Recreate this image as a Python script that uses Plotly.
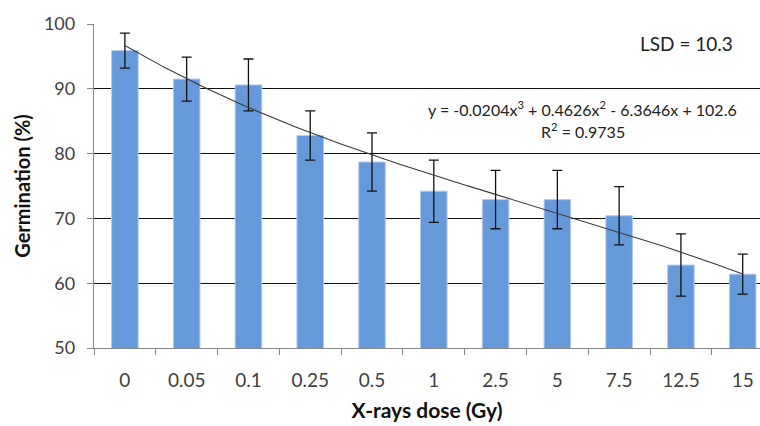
import numpy as np
import plotly.graph_objects as go

doses = ["0", "0.05", "0.1", "0.25", "0.5", "1", "2.5", "5", "7.5", "12.5", "15"]
germination = [95.9, 91.5, 90.6, 82.8, 78.7, 74.2, 72.9, 72.9, 70.4, 62.8, 61.4]
error = [2.7, 3.4, 4.0, 3.8, 4.5, 4.8, 4.5, 4.5, 4.5, 4.8, 3.1]
trend_coef = [-0.0204, 0.4626, -6.3646, 102.6]  # cubic trendline from chart label
y_ticks = [50, 60, 70, 80, 90, 100]

pos = list(range(1, len(doses) + 1))
xt = np.linspace(1, len(doses), 200)
yt = np.polyval(trend_coef, xt)

FONT = "Lato, 'Open Sans', sans-serif"

fig = go.Figure()
fig.add_trace(go.Bar(
    x=pos, y=germination,
    marker=dict(color="#6699d9", line=dict(color="#b3cbee", width=1)),
    error_y=dict(type="data", array=error, visible=True, color="#111111",
                 thickness=1.3, width=5),
    width=0.43, base=0, showlegend=False,
))
fig.add_trace(go.Scatter(
    x=xt, y=yt, mode="lines", line=dict(color="#3a3a3a", width=1.1),
    showlegend=False, hoverinfo="skip",
))

fig.update_layout(
    width=760, height=426,
    margin=dict(l=94, r=0, t=24, b=78, autoexpand=False),
    plot_bgcolor="white", paper_bgcolor="white",
    font=dict(family=FONT, color="#404040", size=18),
    xaxis=dict(
        range=[0.5, 11.28], tickmode="array", tickvals=pos, ticktext=doses,
        ticks="", showline=True, linecolor="#868686", linewidth=1.3,
        showgrid=False, zeroline=False, automargin=False, ticklabelstandoff=15,
        tickfont=dict(size=19, color="#404040"),
        minor=dict(tickmode="array", tickvals=[p - 0.5 for p in pos] + [11.5],
                   ticks="outside", ticklen=6, tickcolor="#868686", showgrid=False),
        title=dict(text="<b>X-rays dose (Gy)</b>", font=dict(size=21, color="#111111"), standoff=13),
    ),
    yaxis=dict(
        range=[50, 100], tickmode="array", tickvals=y_ticks,
        ticks="outside", ticklen=6, tickcolor="#868686", ticklabelstandoff=8,
        showline=True, linecolor="#868686", linewidth=1.3, automargin=False,
        showgrid=True, gridcolor="#111111", gridwidth=1, zeroline=False,
        tickfont=dict(size=18, color="#404040"),
        title=dict(text="<b>Germination (%)</b>", font=dict(size=20, color="#111111"), standoff=7),
    ),
    annotations=[
        dict(text="LSD = 10.3", xref="paper", yref="paper", x=0.890, y=0.940,
             showarrow=False, font=dict(size=19, color="#222222"), xanchor="center", yanchor="middle"),
        dict(text="y = -0.0204x<sup>3</sup> + 0.4626x<sup>2</sup> - 6.3646x + 102.6",
             xref="paper", yref="paper", x=0.733, y=0.738, showarrow=False,
             font=dict(size=16, color="#222222"), xanchor="center", yanchor="middle"),
        dict(text="R<sup>2</sup> = 0.9735", xref="paper", yref="paper", x=0.734, y=0.671,
             showarrow=False, font=dict(size=16, color="#222222"), xanchor="center", yanchor="middle"),
    ],
)

fig.write_html("out.html", config={"displayModeBar": False},
               post_script="document.body.style.margin='0';")
